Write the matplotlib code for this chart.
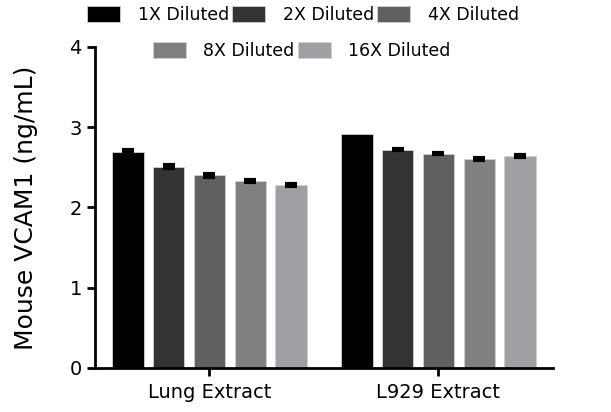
import matplotlib
matplotlib.use("Agg")
import matplotlib.pyplot as plt
import numpy as np

plt.rcParams['font.family'] = ['DejaVu Sans']

## data
groups = ["Lung Extract", "L929 Extract"]
series = ["1X Diluted", "2X Diluted", "4X Diluted", "8X Diluted", "16X Diluted"]
colors = ["#000000", "#333333", "#606060", "#808080", "#a0a0a4"]
lung = [2.69, 2.51, 2.40, 2.33, 2.28]
l929 = [2.92, 2.72, 2.67, 2.60, 2.64]
lung_err = [0.02, 0.015, 0.015, 0.015, 0.01]
l929_err = [0.0, 0.01, 0.01, 0.01, 0.015]

## plotting
fig = plt.figure(figsize=(6.11, 4.12), dpi=100)
ax = fig.add_axes([0.1555, 0.107, 0.7495, 0.779])

x = np.arange(len(groups))
step = 0.178
width = 0.136
handles = []
for i in range(len(series)):
    vals = np.array([lung[i], l929[i]])
    errs = np.array([lung_err[i], l929_err[i]])
    pos = x + (i - 2) * step
    b = ax.bar(pos, vals, width, color=colors[i], edgecolor="#d0d0d0",
               linewidth=0.6, label=series[i], zorder=2)
    keep = errs > 0
    ax.errorbar(pos[keep], vals[keep], yerr=errs[keep], fmt="none",
                ecolor="black", elinewidth=1.5, capsize=4, capthick=3,
                zorder=3)
    handles.append(b)

ax.set_xlim(-0.5, 1.5)
ax.set_ylim(0, 4)
ax.set_yticks([0, 1, 2, 3, 4])
ax.set_xticks(x)
ax.set_xticklabels(groups, fontsize=14)
ax.tick_params(axis="y", labelsize=14, width=2, length=6)
ax.tick_params(axis="x", width=2, length=6, pad=5)
ax.spines["top"].set_visible(False)
ax.spines["right"].set_visible(False)
ax.spines["left"].set_linewidth(2)
ax.spines["bottom"].set_linewidth(2)
ax.set_ylabel("Mouse VCAM1 (ng/mL)", fontsize=18)
ax.yaxis.set_label_coords(-0.125, 0.5)

# two-row legend: 3 items on top, 2 below
leg1 = fig.legend(handles[:3], series[:3], ncol=3, loc="center",
                  bbox_to_anchor=(0.496, 0.964), frameon=False, fontsize=12.5,
                  handlelength=1.9, handleheight=1.0, columnspacing=0.2,
                  handletextpad=1.0)
leg2 = fig.legend(handles[3:], series[3:], ncol=2, loc="center",
                  bbox_to_anchor=(0.494, 0.876), frameon=False, fontsize=12.5,
                  handlelength=1.9, handleheight=1.0, columnspacing=0.2,
                  handletextpad=1.0)

fig.savefig("out.png", dpi=100)
